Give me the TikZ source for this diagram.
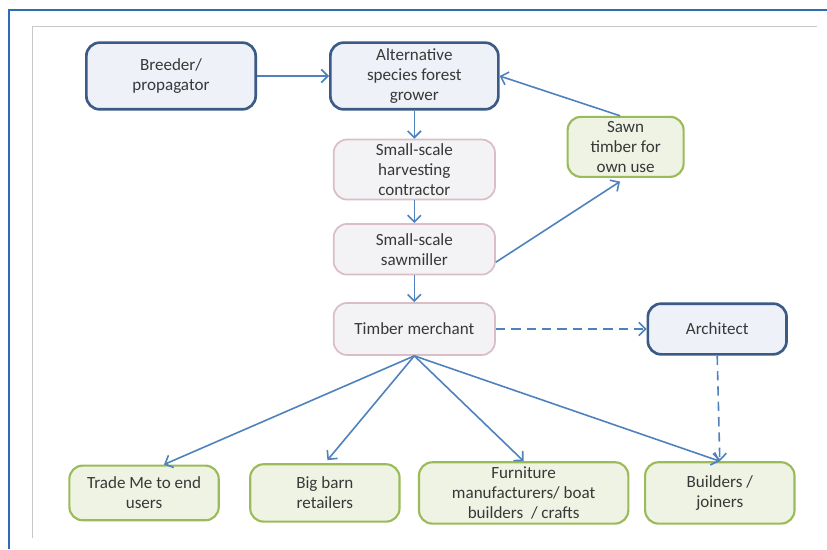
\documentclass[tikz,border=0pt]{standalone}
\usepackage{fontspec}
\setmainfont{Carlito}
\usepackage{xcolor}
\usepackage{tikz}
\usetikzlibrary{arrows.meta,positioning}

\definecolor{boxblue}{HTML}{3B5A85}
\definecolor{fillblue}{HTML}{EEF1F8}
\definecolor{boxpink}{HTML}{D9BEC6}
\definecolor{fillpink}{HTML}{F3F3F6}
\definecolor{boxgreen}{HTML}{9BBB59}
\definecolor{fillgreen}{HTML}{EFF3E3}
\definecolor{arrowblue}{HTML}{4F81BD}
\definecolor{textgray}{HTML}{383838}
\definecolor{frameblue}{HTML}{2E6DB4}
\definecolor{framegray}{HTML}{C8C8C8}

\begin{document}
\begin{tikzpicture}[
    x=0.75pt, y=-0.75pt,
    node distance=20pt,
    base/.style={rectangle, rounded corners=10pt, align=center, inner sep=1pt, text=textgray, font=\fontsize{12.8}{15}\selectfont},
    bluebox/.style={base, draw=boxblue, line width=2pt, fill=fillblue},
    pinkbox/.style={base, draw=boxpink, line width=1.3pt, fill=fillpink},
    greenbox/.style={base, draw=boxgreen, line width=1.6pt, fill=fillgreen},
    arrow/.style={-{Straight Barb[length=5pt,width=10pt]}, line width=1.2pt, draw=arrowblue},
    dasharrow/.style={arrow, dash pattern=on 7pt off 4.5pt},
]
\useasboundingbox (0,0) rectangle (827,549);

% --- Frames ---
\draw[frameblue, line width=1.1pt] (9,549) -- (9,10) -- (827,10);
\draw[framegray, line width=0.7pt] (32,538) -- (32,26) -- (817,26);

% --- Growing and milling chain ---
\node[bluebox, minimum width=127pt, minimum height=50pt] (breeder) at (171,76) {Breeder/\\propagator};
\node[bluebox, minimum width=126pt, minimum height=50pt, right=54pt of breeder] (grower) {Alternative\\species forest\\grower};
\node[pinkbox, minimum width=121pt, minimum height=45pt, below=21pt of grower] (harvest) {Small-scale\\harvesting\\contractor};
\node[pinkbox, minimum width=121pt, minimum height=38pt, below=17pt of harvest] (saw) {Small-scale\\sawmiller};
\node[pinkbox, minimum width=121pt, minimum height=39pt, below=20pt of saw] (merchant) {Timber merchant};

% --- Side nodes ---
\node[greenbox, minimum width=87pt, minimum height=45pt, right=53pt of harvest, yshift=17pt] (sawn) {Sawn\\timber for\\own use};
\node[bluebox, minimum width=104pt, minimum height=38pt, right=113pt of merchant] (architect) {Architect};

% --- End users (bottom row) ---
\node[greenbox, minimum width=157pt, minimum height=46pt, below=79pt of merchant, xshift=82pt] (furniture) {Furniture\\manufacturers/ boat\\builders \ / crafts};
\node[greenbox, minimum width=112pt, minimum height=43pt, left=13pt of furniture] (bigbarn) {Big barn\\retailers};
\node[greenbox, minimum width=112pt, minimum height=41pt, left=22pt of bigbarn] (trademe) {Trade Me to end\\users};
\node[greenbox, minimum width=112pt, minimum height=46pt, right=11pt of furniture] (builders) {Builders /\\joiners};

% --- Arrows ---
\draw[arrow] (breeder.east) -- (grower.west);
\draw[arrow] (grower.south) -- (harvest.north);
\draw[arrow] (harvest.south) -- (saw.north);
\draw[arrow] (saw.south) -- (merchant.north);
\draw[arrow, shorten >=5pt] (saw.-9) -- (sawn.south);
\draw[arrow] (sawn.100) -- (grower.east);
\draw[arrow] (merchant.south) -- (trademe.55);
\draw[arrow, shorten >=3pt] (merchant.south) -- (bigbarn.north);
\draw[arrow] (merchant.south) -- (furniture.north);
\draw[arrow] (merchant.south) -- (builders.north);
\draw[dasharrow] (merchant.east) -- (architect.west);
\draw[dasharrow] (architect.south) -- (builders.north);

\end{tikzpicture}
\end{document}
